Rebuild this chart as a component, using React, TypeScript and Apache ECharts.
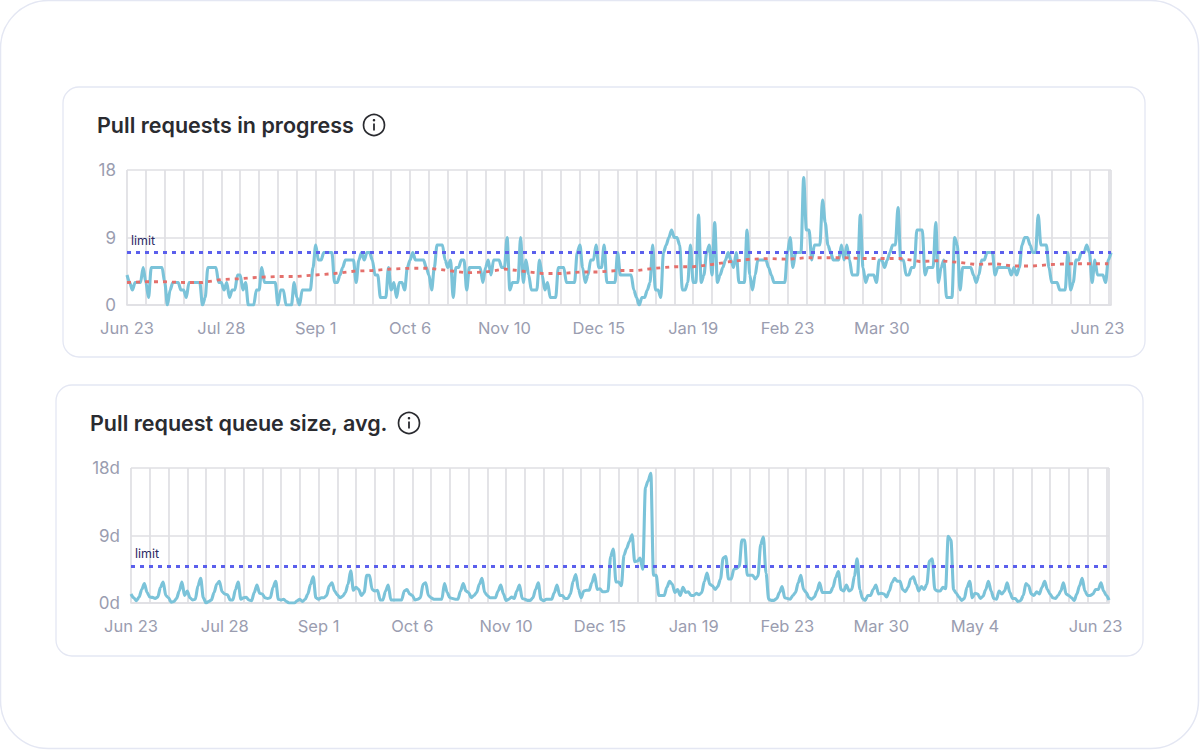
import React, { useEffect, useRef } from "react";
import * as echarts from "echarts";

const dayCount = 366;
const prInProgress = [
  4,3,2,3,3,3,5,3,1,5, 5,5,5,5,3,0,2,3,3,3, 2,2,1,3,3,3,3,3,0,1, 5,5,5,5,3,3,2,3,1,2,
  2,4,4,2,3,0,0,0,2,2, 5,3,3,3,3,3,0,2,2,0, 0,0,3,1,0,2,2,2,2,5, 8,6,6,7,7,7,7,3,3,4,
  5,6,6,6,6,3,6,7,6,7, 7,6,4,4,1,1,1,5,2,3, 1,3,3,2,5,6,7,6,6,6, 6,5,4,2,5,8,8,8,6,5,
  6,1,5,5,6,6,2,5,5,5, 5,5,3,5,6,4,6,6,6,5, 5,9,2,3,3,3,9,3,6,4, 2,2,2,6,4,2,3,1,1,1,
  5,5,5,3,3,3,3,7,8,5, 3,4,6,6,8,5,5,8,3,3, 3,3,7,4,4,4,4,4,2,1, 0,1,1,2,3,8,2,2,1,7,
  8,9,10,9,9,8,2,2,3,8, 3,3,12,3,4,7,8,4,11,3, 4,5,6,7,6,5,7,3,3,3, 10,4,2,4,6,6,6,6,5,4,
  3,3,3,3,3,7,9,5,7,7, 7,17,10,10,6,8,8,8,14,11, 8,7,6,6,6,8,6,8,6,4, 4,4,12,5,3,4,4,4,3,6,
  6,5,6,7,8,8,13,6,6,4, 4,5,5,10,10,10,4,5,5,5, 11,3,5,6,1,1,1,9,8,2, 5,5,5,5,4,3,4,6,6,7,
  7,7,4,5,5,5,5,5,4,5, 4,5,8,9,9,8,7,7,12,8, 8,8,5,3,3,3,2,2,2,7, 2,3,6,6,7,7,8,7,3,6,
  4,4,4,3,6,7,
];
const prTrendWeekly = [
  3.0,3.1,3.1,3.0,3.0,3.4,3.5,3.7,3.8,3.8,4.0,4.2,4.5,4.6,4.8,4.9,4.9,4.6,4.3,4.4,4.8,4.5,4.2,4.2,4.4,4.4,
  4.6,4.6,4.9,5.1,5.1,5.4,5.8,6.1,6.2,6.1,6.3,6.3,6.3,6.2,6.2,6.2,5.8,5.9,5.7,5.4,5.5,5.2,5.2,5.4,5.5,5.5,5.5,
];
const queueSize = [
  1.2,.7,.3,.75,1.8,2.6,1.4,.8,.75,.6, .8,2.1,2.8,1,.7,.1,.2,.6,1.6,2.8, 1,1.6,.7,.4,.5,2.3,3.3,.7,0,.2,
  .4,1.4,2.5,2.9,1.5,1.2,1.1,.4,.4,1.8, 2.8,.5,.7,.75,.4,.3,1.4,2.4,1.3,1.2, .7,.6,.7,2.1,2.9,.5,.4,.5,.2,0,
  0,0,.3,.5,.2,.5,1.2,2.5,3.5,.7, .5,.7,.7,1,2.3,2.7,1.6,1.1,.7,.9, 1.4,2.5,4.3,1.7,2.1,1.8,1,1.4,3.7,3.7,
  1.8,1.6,1.7,.4,.4,1.6,2.4,.4,.4,.4, .4,.4,1.6,1.8,1.2,1,.4,.5,.7,2.5, 2.7,1,.7,.5,.5,.5,.5,2.6,1.4,.7,
  .6,.5,.5,1.6,2.6,1.6,1.4,.7,1,1.4, 2.5,3.3,1.4,1,.7,.7,.7,1.6,2.4,1.2, .35,.5,.8,.6,1.6,2.4,.6,.5,.35,.35,
  .7,1.8,2.7,.5,.3,.5,.5,.5,1.4,2.4, 1,1,.6,.6,1.2,2.9,3.8,1.8,.7,1.6, 1.7,1.7,2.7,3.8,1.8,1.9,1.5,1.5,1.6,6.2,
  7.2,2.8,2.8,2.3,6.4,7.3,8.2,9.1,5.5,5.6, 6,4.5,15.4,16.3,17.3,3.7,3.7,1,1,1, 2.1,2.9,2.5,1.4,1.8,1,2.1,1.4,1.5,1,
  1,1.3,1.1,1.4,2.9,4,2.5,2.3,1.8,2.2, 3.2,6,6.2,3.2,3.2,4.5,4.6,4.9,8.4,8.4, 3.7,3.7,3.7,3.2,3.6,7.8,8.8,4,.5,.35,
  .35,.6,1.4,2.2,.7,.6,.5,1,1.4,2.7, 3.7,1.8,1.4,.7,.5,.8,1.6,2.7,1.4,1.4, 1.4,1.4,2.1,3.4,4.2,1.8,1.6,2.4,1.6,1.8,
  3.6,5.9,1.8,.6,.35,1,1,1.8,2.4,1.2, 1.3,1.2,.8,1.6,2.7,3.3,2.9,2.9,1.8,1.5, 2.1,3.2,3.5,2.5,1.6,2.2,1.8,2.5,5.6,5.9,
  1.8,1.6,1.6,2.1,1.9,8.9,8.4,1.8,1.3,.8, .35,.6,2.1,2.9,.7,1.3,1.2,.6,.9,1.8, 2.9,1.6,.6,.5,1.6,1.2,1.6,2.7,1.4,.6,
  .6,.2,.3,1,2.6,2.3,1.2,1,1.5,1.2, 2.1,2.9,1.8,1.2,.7,.6,1,1.6,2.7,1.2, 1,.7,.35,1.2,2.3,3.3,1.6,1,1,1.2,
  1.8,1.8,2.7,1.6,1,.4,
];
const prLimit = 7;
const queueLimit = 4.95;
const prLabelDays = [0, 35, 70, 105, 140, 175, 210, 245, 280, 360];
const prLabels = ["Jun 23", "Jul 28", "Sep 1", "Oct 6", "Nov 10", "Dec 15", "Jan 19", "Feb 23", "Mar 30", "Jun 23"];
const queueLabelDays = [0, 35, 70, 105, 140, 175, 210, 245, 280, 315, 360];
const queueLabels = ["Jun 23", "Jul 28", "Sep 1", "Oct 6", "Nov 10", "Dec 15", "Jan 19", "Feb 23", "Mar 30", "May 4", "Jun 23"];
const days = Array.from({ length: dayCount }, (_, i) => String(i));
const FONT = "Inter";

function infoIcon(cx: number, cy: number) {
  const ink = "#2a2b30";
  return [
    { type: "circle", shape: { cx, cy, r: 10.5 }, style: { fill: "none", stroke: ink, lineWidth: 1.7 } },
    { type: "rect", shape: { x: cx - 0.9, y: cy - 1.5, width: 1.8, height: 7 }, style: { fill: ink } },
    { type: "circle", shape: { cx, cy: cy - 4.8, r: 1.25 }, style: { fill: ink } },
  ];
}

function card(x: number, y: number, w: number, h: number, title: string, iconX: number) {
  return [
    { type: "rect", z: -10, shape: { x, y, width: w, height: h, r: 16 }, style: { fill: "#fff", stroke: "#e4e7f3", lineWidth: 1.3 } },
    { type: "text", x: x + 34, y: y + 38, style: { text: title, font: `600 21.5px ${FONT}`, fill: "#2a2b30", textVerticalAlign: "middle" } },
    ...infoIcon(iconX, y + 38),
  ];
}

function xAxis(gridIndex: number, labelDays: number[], labels: string[]) {
  return {
    type: "category",
    gridIndex,
    data: days,
    boundaryGap: false,
    axisLine: { show: true, lineStyle: { color: "#dfdfe3", width: 1.7 } },
    axisTick: { show: false },
    axisLabel: {
      interval: (i: number) => labelDays.includes(i),
      formatter: (_: string, i: number) => labels[labelDays.indexOf(i)] ?? "",
      color: "#9a9db0",
      fontFamily: FONT,
      fontSize: 16.5,
      margin: 14,
    },
    splitLine: {
      show: true,
      interval: (i: number) => i % 7 === 0 || i === dayCount - 1,
      lineStyle: { color: "#dfdfe3", width: 1.7 },
    },
  };
}

function yAxis(gridIndex: number, suffix: string) {
  return {
    type: "value",
    gridIndex,
    min: 0,
    max: 18,
    interval: 9,
    axisLine: { show: false },
    axisTick: { show: false },
    axisLabel: {
      formatter: (v: number) => `${v}${suffix}`,
      color: "#9a9db0",
      fontFamily: FONT,
      fontSize: 17,
      margin: 11,
    },
    splitLine: { show: true, lineStyle: { color: "#dfdfe3", width: 1.7 } },
  };
}

function mainLine(idx: number, data: number[]) {
  return {
    type: "line",
    xAxisIndex: idx,
    yAxisIndex: idx,
    data,
    showSymbol: false,
    smooth: 0.3,
    smoothMonotone: "x",
    z: 3,
    lineStyle: { color: "#7bc3d9", width: 3.1 },
    silent: true,
  };
}

function limitLine(idx: number, value: number) {
  return {
    type: "line",
    xAxisIndex: idx,
    yAxisIndex: idx,
    data: [],
    z: 5,
    silent: true,
    markLine: {
      silent: true,
      symbol: "none",
      animation: false,
      data: [{ yAxis: value }],
      lineStyle: { color: "#5b5fec", width: 2.8, type: [4, 5] },
      label: {
        show: true,
        formatter: "limit",
        position: "insideStartTop",
        distance: [4, 6],
        color: "#2b2b63",
        fontFamily: FONT,
        fontSize: 12.5,
      },
    },
  };
}

const trendData = days.map((_, i) => (i % 7 === 0 ? prTrendWeekly[i / 7] ?? null : null));

export default function App() {
  const ref = useRef<HTMLDivElement>(null);
  useEffect(() => {
    document.body.style.margin = "0";
    document.body.style.background = "#fff";
    const chart = echarts.init(ref.current!, undefined, { renderer: "svg" });
    chart.setOption({
      animation: false,
      backgroundColor: "#fff",
      graphic: [
        { type: "rect", z: -20, shape: { x: 0.5, y: 0.5, width: 1198, height: 748, r: 48 }, style: { fill: "#fff", stroke: "#e4e7f3", lineWidth: 1.5 } },
        ...card(63, 87, 1082, 270, "Pull requests in progress", 374),
        ...card(56, 385, 1087, 271, "Pull request queue size, avg.", 409),
      ],
      grid: [
        { left: 127, top: 170, width: 984, height: 135, containLabel: false },
        { left: 131, top: 468, width: 978, height: 135, containLabel: false },
      ],
      xAxis: [xAxis(0, prLabelDays, prLabels), xAxis(1, queueLabelDays, queueLabels)],
      yAxis: [yAxis(0, ""), yAxis(1, "d")],
      series: [
        mainLine(0, prInProgress),
        {
          type: "line",
          xAxisIndex: 0,
          yAxisIndex: 0,
          data: trendData,
          connectNulls: true,
          showSymbol: false,
          z: 4,
          silent: true,
          lineStyle: { color: "#e4706c", width: 2.8, type: [4, 5] },
        },
        limitLine(0, prLimit),
        mainLine(1, queueSize),
        limitLine(1, queueLimit),
      ],
    });
    return () => chart.dispose();
  }, []);
  return <div ref={ref} style={{ width: 1200, height: 750 }} />;
}
